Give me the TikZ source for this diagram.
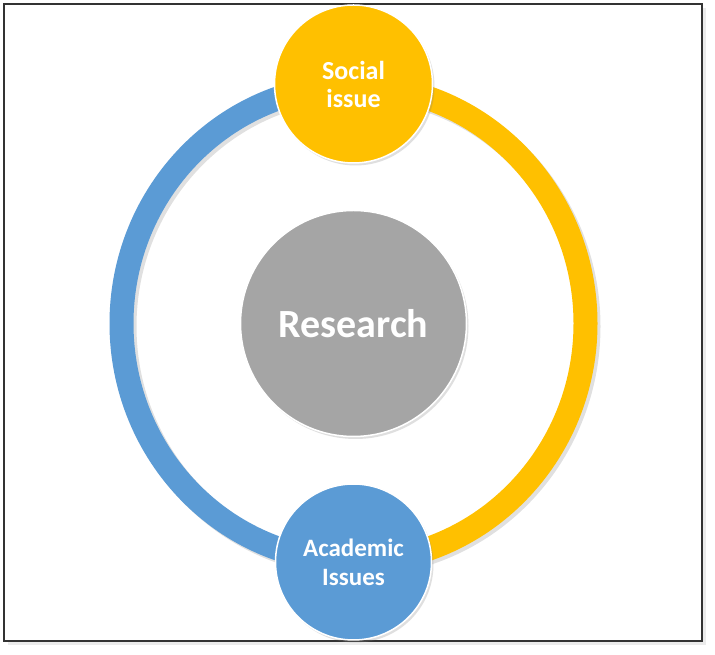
\documentclass[tikz,border=0pt]{standalone}
\usepackage{fontspec}
\setmainfont{Carlito}
\usetikzlibrary{shadows}
\definecolor{cblue}{HTML}{5B9BD5}
\definecolor{corange}{HTML}{FFC000}
\definecolor{cgray}{HTML}{A5A5A5}
\begin{document}
\begin{tikzpicture}[x=1pt,y=1pt,
  bubble/.style={circle,draw=white,line width=1.5pt,text=white,font=\bfseries,align=center,
    drop shadow={opacity=0.25,shadow xshift=2pt,shadow yshift=-2.5pt}},
  ringpart/.style={line width=24pt},
  ringshadow/.style={line width=24pt,draw=black,opacity=0.12}]
\useasboundingbox (0,0) rectangle (715,655);
% frame
\fill[black!8] (8,10) rectangle (706,647);
\draw[fill=white,draw=black!80,line width=1.4pt] (4,14) rectangle (702,651);
\coordinate (c) at (353.5,331.5);
% ring shadow
\draw[ringshadow] ([xshift=3pt,yshift=-3pt]c) ellipse [x radius=232,y radius=238];
% ring
\draw[ringpart,cblue] ([yshift=238]c) arc[start angle=90,end angle=270,x radius=232,y radius=238];
\draw[ringpart,corange] ([yshift=-238]c) arc[start angle=-90,end angle=90,x radius=232,y radius=238];
% circles
\node[bubble,fill=cgray,minimum size=226,font=\bfseries\fontsize{40}{44}\selectfont] (research) at (c) {Research};
\node[bubble,fill=corange,minimum size=158,font=\bfseries\fontsize{26}{28}\selectfont] (social) at (353.5,571) {Social\\issue};
\node[bubble,fill=cblue,minimum size=156,font=\bfseries\fontsize{25}{29}\selectfont] (academic) at (353.5,93) {Academic\\Issues};
\end{tikzpicture}
\end{document}
